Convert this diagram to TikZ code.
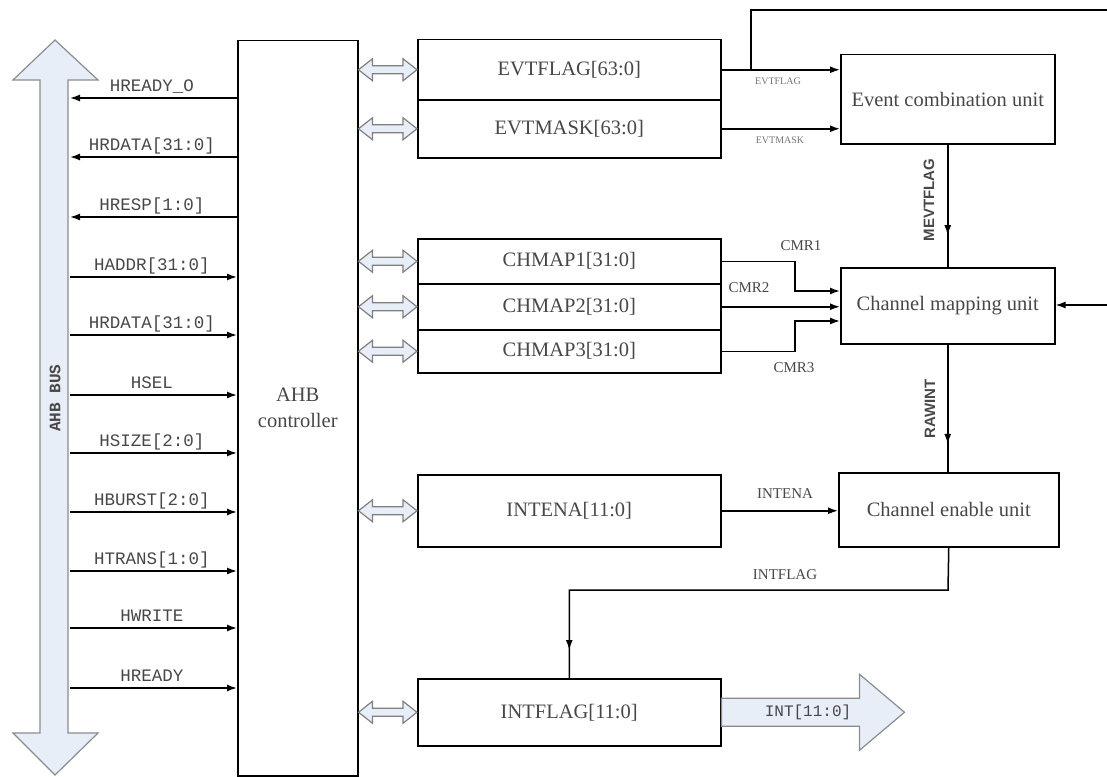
\documentclass[tikz,border=0pt]{standalone}
\usepackage{fontspec}
\setmainfont{Liberation Serif}
\newfontfamily\monof{Liberation Mono}
\newfontfamily\sansf{Liberation Sans}
\usetikzlibrary{arrows.meta,decorations.markings,calc}
\definecolor{busfill}{HTML}{E8EEF7}
\definecolor{txt}{HTML}{474747}
\tikzset{
  blk/.style={draw, line width=1.5pt, inner sep=2pt, font=\fontsize{20.5}{26}\selectfont, text=txt, anchor=north west, align=center},
  sig/.style={line width=1.5pt, -{Latex[length=10pt,width=7pt]}},
  wire/.style={line width=1.5pt},
  lbl/.style={font=\monof\fontsize{17.5}{17.5}\selectfont, text=txt, anchor=base},
  slbl/.style={font=\fontsize{15}{15}\selectfont, text=txt},
  tinylbl/.style={font=\fontsize{10}{10}\selectfont, text=black!55},
  vlbl/.style={font=\sansf\bfseries\fontsize{15}{15}\selectfont, rotate=90, text=txt},
  hollow/.style={draw=black!50, line width=1.2pt, fill=busfill},
  bigarrow/.style={draw=black!45, line width=1.2pt, fill=busfill},
  midarrow/.style={postaction={decorate}, decoration={markings, mark=at position #1 with {\arrow{Latex[length=10pt,width=7pt]}}}},
}
\newcommand\hdbl[2]{\path[hollow] let \p1=(#1), \p2=(#2) in
 (\x1,\y1) -- (\x1+14pt,\y1+11pt) -- (\x1+14pt,\y1+4pt) -- (\x2-14pt,\y1+4pt) -- (\x2-14pt,\y1+11pt) -- (\x2,\y1) -- (\x2-14pt,\y1-11pt) -- (\x2-14pt,\y1-4pt) -- (\x1+14pt,\y1-4pt) -- (\x1+14pt,\y1-11pt) -- cycle;}
\begin{document}
\begin{tikzpicture}[x=1pt,y=-1pt]
\useasboundingbox (0,0) rectangle (1107,776);

% AHB bus arrow
\path[bigarrow] (55,40) -- (98,80) -- (68,80) -- (68,733) -- (98,733) -- (55,775) -- (13,733) -- (40,733) -- (40,80) -- (13,80) -- cycle;
\node[font=\monof\bfseries\fontsize{16}{16}\selectfont, text=txt, rotate=90] (busl) at (55,398) {AHB BUS};

% AHB controller
\node[blk, minimum width=120pt, minimum height=735pt] (ahb) at (237,40) {AHB\\controller};

% registers
\node[blk, minimum width=303pt, minimum height=60pt] (ef) at (417,39) {EVTFLAG[63:0]};
\node[blk, minimum width=303pt, minimum height=58pt] (em) at (417,99) {EVTMASK[63:0]};
\node[blk, minimum width=303pt, minimum height=45pt] (c1) at (417,238) {CHMAP1[31:0]};
\node[blk, minimum width=303pt, minimum height=46pt] (c2) at (417,283) {CHMAP2[31:0]};
\node[blk, minimum width=303pt, minimum height=43pt] (c3) at (417,329) {CHMAP3[31:0]};
\node[blk, minimum width=303pt, minimum height=72pt] (ie) at (417,474) {INTENA[11:0]};
\node[blk, minimum width=303pt, minimum height=67pt] (ifl) at (417,678) {INTFLAG[11:0]};

% units
\node[blk, minimum width=214pt, minimum height=89pt] (ecu) at (840,54) {Event combination unit};
\node[blk, minimum width=214pt, minimum height=76pt] (cmu) at (840,267) {Channel mapping unit};
\node[blk, minimum width=220pt, minimum height=74pt] (ceu) at (838,472) {Channel enable unit};

% hollow double arrows
\hdbl{ahb.east |- ef.west}{ef.west}
\hdbl{ahb.east |- em.west}{em.west}
\hdbl{ahb.east |- c1.west}{c1.west}
\hdbl{ahb.east |- c2.west}{c2.west}
\hdbl{ahb.east |- c3.west}{c3.west}
\hdbl{ahb.east |- ie.west}{ie.west}
\hdbl{ahb.east |- ifl.west}{ifl.west}

% left bus signals
\coordinate (p1) at (70,98);  \node[lbl] (l1) at (152,91) {HREADY\_O};
\coordinate (p2) at (70,157); \node[lbl] (l2) at (152,150) {HRDATA[31:0]};
\coordinate (p3) at (70,217); \node[lbl] (l3) at (152,210) {HRESP[1:0]};
\coordinate (p4) at (70,277); \node[lbl] (l4) at (152,270) {HADDR[31:0]};
\coordinate (p5) at (70,335); \node[lbl] (l5) at (152,328) {HRDATA[31:0]};
\coordinate (p6) at (70,395); \node[lbl] (l6) at (152,388) {HSEL};
\coordinate (p7) at (70,453); \node[lbl] (l7) at (152,446) {HSIZE[2:0]};
\coordinate (p8) at (70,512); \node[lbl] (l8) at (152,505) {HBURST[2:0]};
\coordinate (p9) at (70,571); \node[lbl] (l9) at (152,564) {HTRANS[1:0]};
\coordinate (p10) at (70,628); \node[lbl] (l10) at (152,621) {HWRITE};
\coordinate (p11) at (70,688); \node[lbl] (l11) at (152,681) {HREADY};
\draw[sig] (ahb.west |- p1) -- (p1);
\draw[sig] (ahb.west |- p2) -- (p2);
\draw[sig] (ahb.west |- p3) -- (p3);
\draw[sig] (p4) -- (ahb.west |- p4);
\draw[sig] (p5) -- (ahb.west |- p5);
\draw[sig] (p6) -- (ahb.west |- p6);
\draw[sig] (p7) -- (ahb.west |- p7);
\draw[sig] (p8) -- (ahb.west |- p8);
\draw[sig] (p9) -- (ahb.west |- p9);
\draw[sig] (p10) -- (ahb.west |- p10);
\draw[sig] (p11) -- (ahb.west |- p11);

% event flags to event combination unit
\draw[sig] (ef.east) -- (ecu.west |- ef.east);
\draw[sig] (em.east) -- (ecu.west |- em.east);
\node[tinylbl] (tef) at (778,81) {EVTFLAG};
\node[tinylbl] (tem) at (780,140) {EVTMASK};
\coordinate (br) at (751,69);
\coordinate (topend) at (1107,10);
\draw[wire] (br) |- (topend);

% MEVTFLAG
\draw[wire, midarrow=0.74] (ecu.south) -- (cmu.north);
\node[vlbl] (tmev) at (929,200) {MEVTFLAG};

% CHMAP to channel mapping unit
\coordinate (k1) at (795,291);
\coordinate (k3) at (795,321);
\draw[sig] (c1.east) -| (k1) -- (cmu.west |- k1);
\draw[sig] (c2.east) -- (cmu.west |- c2.east);
\draw[sig] (c3.east) -| (k3) -- (cmu.west |- k3);
\node[slbl] (tc1) at (801,246) {CMR1};
\node[slbl] (tc2) at (749,288) {CMR2};
\node[slbl] (tc3) at (794,368) {CMR3};
\coordinate (rin) at (1107,305);
\draw[sig] (rin) -- (cmu.east |- rin);

% RAWINT
\draw[wire, midarrow=0.78] (cmu.south) -- (cmu.south |- ceu.north);
\node[vlbl] (traw) at (930,409) {RAWINT};

% INTENA
\draw[sig] (ie.east) -- (ceu.west |- ie.east);
\node[slbl] (tie) at (785,494) {INTENA};

% INTFLAG
\coordinate (q1) at (948,590);
\draw[wire, midarrow=0.945] (ceu.south) -- (q1) -| (ifl.north);
\node[slbl] (tif) at (785,575) {INTFLAG};

% INT output arrow
\path[bigarrow] let \p1=(ifl.east) in (\x1,\y1+14pt) -- (\x1+138pt,\y1+14pt) -- (\x1+138pt,\y1+38pt) -- (\x1+183pt,\y1) -- (\x1+138pt,\y1-38pt) -- (\x1+138pt,\y1-14pt) -- (\x1,\y1-14pt) -- cycle;
\node[font=\monof\fontsize{16}{16}\selectfont, text=txt] (tint) at (808,712) {INT[11:0]};
\end{tikzpicture}
\end{document}
